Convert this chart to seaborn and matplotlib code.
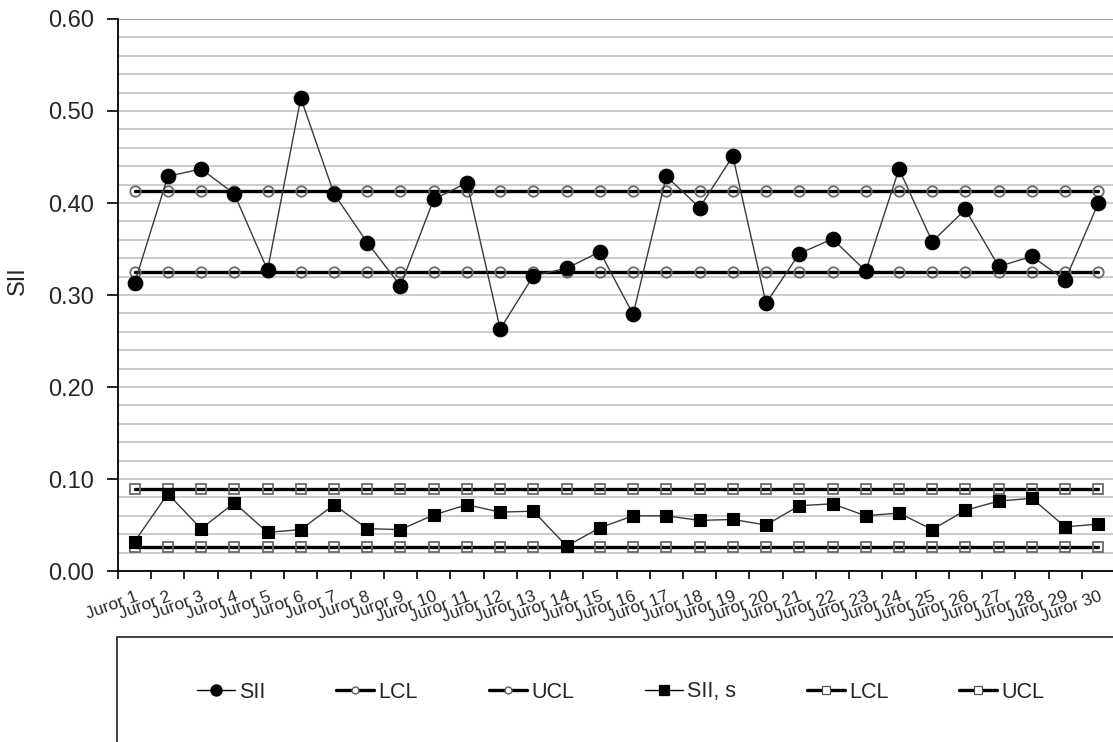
import matplotlib
matplotlib.use("Agg")
import matplotlib.pyplot as plt
from matplotlib.lines import Line2D
from matplotlib.patches import Rectangle
from matplotlib.ticker import MultipleLocator, FixedLocator
import numpy as np
import pandas as pd
import seaborn as sns

# ---- data -------------------------------------------------------------
jurors = [f"Juror {i}" for i in range(1, 31)]
sii = [0.313, 0.429, 0.437, 0.410, 0.327, 0.514, 0.410, 0.357, 0.310, 0.404,
       0.422, 0.263, 0.321, 0.329, 0.347, 0.279, 0.429, 0.395, 0.451, 0.291,
       0.345, 0.361, 0.326, 0.437, 0.358, 0.393, 0.331, 0.342, 0.316, 0.400]
sii_s = [0.032, 0.084, 0.046, 0.074, 0.042, 0.045, 0.072, 0.046, 0.045, 0.061,
         0.072, 0.064, 0.065, 0.027, 0.047, 0.060, 0.060, 0.055, 0.056, 0.050,
         0.071, 0.073, 0.060, 0.063, 0.045, 0.066, 0.076, 0.079, 0.048, 0.051]
sii_lcl = 0.325
sii_ucl = 0.413
s_lcl = 0.0265
s_ucl = 0.089
legend_labels = ["SII", "LCL", "UCL", "SII, s", "LCL", "UCL"]

# ---- style ------------------------------------------------------------
sns.set_style("white")
plt.rcParams["font.family"] = ["Liberation Sans", "DejaVu Sans"]

W, H = 1113, 742
fig = plt.figure(figsize=(W / 100, H / 100), dpi=100)
ax_l, ax_r, ax_t, ax_b = 118, 1115, 19, 571
ax = fig.add_axes([ax_l / W, 1 - ax_b / H, (ax_r - ax_l) / W, (ax_b - ax_t) / H])

n = len(jurors)
df = pd.DataFrame({
    "juror": jurors,
    "sii": sii,
    "sii_s": sii_s,
    "sii_lcl": [sii_lcl] * n,
    "sii_ucl": [sii_ucl] * n,
    "s_lcl": [s_lcl] * n,
    "s_ucl": [s_ucl] * n,
})

limit_kw = dict(color="black", linewidth=2.4, markersize=7.5,
                markerfacecolor="none", markeredgecolor="#6a6a6a",
                markeredgewidth=1.3, sort=False, errorbar=None, legend=False)
for col, mk in [("sii_lcl", "o"), ("sii_ucl", "o"), ("s_lcl", "s"), ("s_ucl", "s")]:
    sns.lineplot(data=df, x="juror", y=col, marker=mk, ax=ax, zorder=3, **limit_kw)

data_kw = dict(color="#3a3a3a", linewidth=1.0, markerfacecolor="black",
               markeredgecolor="black", markeredgewidth=0.8,
               sort=False, errorbar=None, legend=False)
sns.lineplot(data=df, x="juror", y="sii", marker="o", markersize=10.5,
             ax=ax, zorder=4, **data_kw)
sns.lineplot(data=df, x="juror", y="sii_s", marker="s", markersize=8,
             ax=ax, zorder=4, **data_kw)

# ---- axes ------------------------------------------------------------
ax.set_xlim(-0.5, n - 0.5)
ax.set_ylim(0, 0.6)
ax.yaxis.set_major_locator(MultipleLocator(0.1))
ax.yaxis.set_minor_locator(MultipleLocator(0.02))
ax.yaxis.set_major_formatter(matplotlib.ticker.FormatStrFormatter("%.2f"))
ax.grid(which="both", axis="y", color="#c8c8c8", linewidth=1.3, zorder=0)
ax.set_axisbelow(True)
ax.tick_params(axis="y", which="major", direction="out", length=8, width=1.2,
               color="black", labelsize=17, pad=9, left=True)
ax.tick_params(axis="y", which="minor", length=0)

ax.set_xticks(range(n))
ax.set_xticklabels(jurors, rotation=20, ha="right", va="top",
                   rotation_mode="anchor", fontsize=12.5, color="#2a2a2a")
ax.xaxis.set_minor_locator(FixedLocator(np.arange(-0.5, n, 1.0)))
ax.tick_params(axis="x", which="major", length=0, pad=13)
ax.tick_params(axis="x", which="minor", direction="out", length=6, width=1.2,
               color="black", bottom=True)

for side in ("top", "right"):
    ax.spines[side].set_visible(False)
for side in ("left", "bottom"):
    ax.spines[side].set_color("black")
    ax.spines[side].set_linewidth(1.3)
ax.axhline(0.6, color="#999999", linewidth=1.3, zorder=1)

ax.set_xlabel("")
ax.set_ylabel("SII", fontsize=17)
ax.yaxis.set_label_coords((29 - ax_l) / (ax_r - ax_l), (ax_b - 281) / (ax_b - ax_t))

# ---- legend ----------------------------------------------------------
def handle(marker, thick, filled, ms):
    return Line2D([], [], color="black", linewidth=2.4 if thick else 1.0,
                  marker=marker, markersize=ms,
                  markerfacecolor="black" if filled else "white",
                  markeredgecolor="black" if filled else "#555555",
                  markeredgewidth=0.9)

handles = [handle("o", False, True, 8), handle("o", True, False, 5),
           handle("o", True, False, 5), handle("s", False, True, 7),
           handle("s", True, False, 6), handle("s", True, False, 6)]
fig.legend(handles, legend_labels, ncol=6, loc="center left",
           bbox_to_anchor=(197 / W, 1 - 692 / H), frameon=False,
           fontsize=15.5, handlelength=1.75, handletextpad=0.2,
           columnspacing=3.3, borderpad=0, borderaxespad=0)
fig.patches.append(Rectangle((117 / W, -0.02), 1.0, (H - 637) / H + 0.02,
                             transform=fig.transFigure, fill=False,
                             edgecolor="#333333", linewidth=1.3))

fig.savefig("out.png", dpi=100)
